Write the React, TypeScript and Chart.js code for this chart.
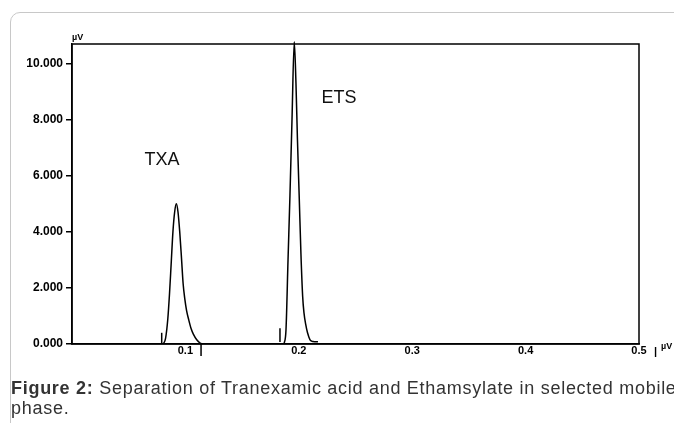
import React, { useEffect, useRef } from "react";
import { Chart, registerables } from "chart.js";

Chart.register(...registerables);

// ---- data (time in min, signal in µV) ----
const xTicks = [0.1, 0.2, 0.3, 0.4, 0.5];
const yTicks = [0, 2000, 4000, 6000, 8000, 10000];

const txaTime = [0.0805, 0.0825, 0.0845, 0.086, 0.0875, 0.089, 0.0905, 0.092, 0.0935, 0.095, 0.0965, 0.098, 0.0995, 0.101, 0.103, 0.105, 0.107, 0.11, 0.113, 0.115];
const txaSignal = [0, 200, 900, 1800, 2900, 4000, 4700, 5000, 4700, 4000, 3100, 2150, 1600, 1200, 850, 550, 350, 150, 30, 0];

const etsTime = [0.187, 0.1887, 0.1905, 0.1922, 0.194, 0.196, 0.1975, 0.1988, 0.2004, 0.2019, 0.2034, 0.2046, 0.2061, 0.2077, 0.2099, 0.2125, 0.2169];
const etsSignal = [0, 500, 3000, 5300, 8000, 10780, 9300, 7300, 5200, 3200, 1700, 1100, 700, 400, 150, 90, 80];

const markerTime = [0.0791, 0.1138, 0.1834];
const markerFrom = [0, 0, 70];
const markerTo = [400, -430, 560];

const peakNames = ["TXA", "ETS"];
const peakLabelTime = [0.0794, 0.2354];
const peakLabelSignal = [6570, 8780];

const FONT = "'Liberation Sans', Arial, sans-serif";

export default function App() {
  const ref = useRef<HTMLCanvasElement | null>(null);

  useEffect(() => {
    if (!ref.current) return;
    const line = (xs: number[], ys: number[]) => xs.map((x, i) => ({ x, y: ys[i] }));
    const datasets: any[] = [
      { label: "TXA", data: line(txaTime, txaSignal) },
      { label: "ETS", data: line(etsTime, etsSignal) },
      ...markerTime.map((t, i) => ({
        label: "marker" + i,
        data: [{ x: t, y: markerFrom[i] }, { x: t, y: markerTo[i] }],
        cubicInterpolationMode: "default",
        tension: 0,
      })),
    ].map((d) => ({
      borderColor: "#000",
      borderWidth: 1.5,
      pointRadius: 0,
      fill: false,
      clip: false,
      cubicInterpolationMode: "monotone",
      ...d,
    }));

    const framePlugin = {
      id: "frame",
      afterDraw(chart: any) {
        const { ctx, chartArea: a, scales } = chart;
        ctx.save();
        ctx.strokeStyle = "#000";
        ctx.lineWidth = 1.5;
        ctx.strokeRect(a.left, a.top, a.right - a.left, a.bottom - a.top);
        // peak names
        ctx.fillStyle = "#111";
        ctx.font = `18px ${FONT}`;
        ctx.textAlign = "center";
        ctx.textBaseline = "middle";
        peakNames.forEach((n, i) => {
          ctx.fillText(n, scales.x.getPixelForValue(peakLabelTime[i]), scales.y.getPixelForValue(peakLabelSignal[i]));
        });
        // axis units
        ctx.fillStyle = "#000";
        ctx.font = `bold 9px ${FONT}`;
        ctx.textAlign = "left";
        ctx.textBaseline = "bottom";
        ctx.fillText("µV", a.left, a.top - 2);
        ctx.font = `bold 11px ${FONT}`;
        ctx.textBaseline = "top";
        ctx.fillText("|", a.right + 15, a.bottom + 2);
        ctx.font = `bold 9px ${FONT}`;
        ctx.fillText("µV", a.right + 22, a.bottom - 2);
        ctx.restore();
      },
    };

    const chart = new Chart(ref.current, {
      type: "line",
      data: { datasets },
      plugins: [framePlugin],
      options: {
        animation: false,
        responsive: false,
        layout: { padding: { left: 0, top: 44, right: 35, bottom: 0 } },
        plugins: { legend: { display: false }, tooltip: { enabled: false } },
        scales: {
          x: {
            type: "linear",
            min: 0,
            max: 0.5,
            afterBuildTicks: (s: any) => {
              s.ticks = xTicks.map((v) => ({ value: v }));
            },
            afterFit: (s: any) => {
              s.height = 79;
            },
            grid: { display: false, drawTicks: false },
            border: { display: true, color: "#000", width: 1.5 },
            ticks: {
              color: "#000",
              font: { family: FONT, size: 11, weight: "bold" },
              padding: 0,
              maxRotation: 0,
              autoSkip: false,
              callback: (v: any) => String(v),
            },
          },
          y: {
            type: "linear",
            min: 0,
            max: 10700,
            afterBuildTicks: (s: any) => {
              s.ticks = yTicks.map((v) => ({ value: v }));
            },
            afterFit: (s: any) => {
              s.width = 72;
            },
            grid: { display: true, drawOnChartArea: false, drawTicks: true, tickLength: 6, color: "#000", lineWidth: 1.5 },
            border: { display: true, color: "#000", width: 1.5 },
            ticks: {
              color: "#000",
              font: { family: FONT, size: 12, weight: "bold" },
              padding: 3,
              autoSkip: false,
              callback: (v: any) => (Number(v) / 1000).toFixed(3),
            },
          },
        },
      } as any,
    });
    return () => chart.destroy();
  }, []);

  return (
    <div style={{ position: "fixed", left: 0, top: 0, width: 674, height: 423, background: "#fff", overflow: "hidden" }}>
      <div
        style={{
          position: "absolute",
          left: 10,
          top: 12,
          width: 740,
          height: 500,
          border: "1px solid #c8c8c8",
          borderRadius: 10,
          boxSizing: "border-box",
        }}
      />
      <canvas ref={ref} width={674} height={423} style={{ position: "absolute", left: 0, top: 0, width: 674, height: 423 }} />
      <div
        style={{
          position: "absolute",
          left: 11,
          top: 378,
          fontFamily: FONT,
          fontSize: 18,
          letterSpacing: 0.72,
          lineHeight: "20px",
          color: "#333",
          whiteSpace: "nowrap",
        }}
      >
        <div>
          <b>Figure 2:</b> Separation of Tranexamic acid and Ethamsylate in selected mobile
        </div>
        <div>phase.</div>
      </div>
    </div>
  );
}
